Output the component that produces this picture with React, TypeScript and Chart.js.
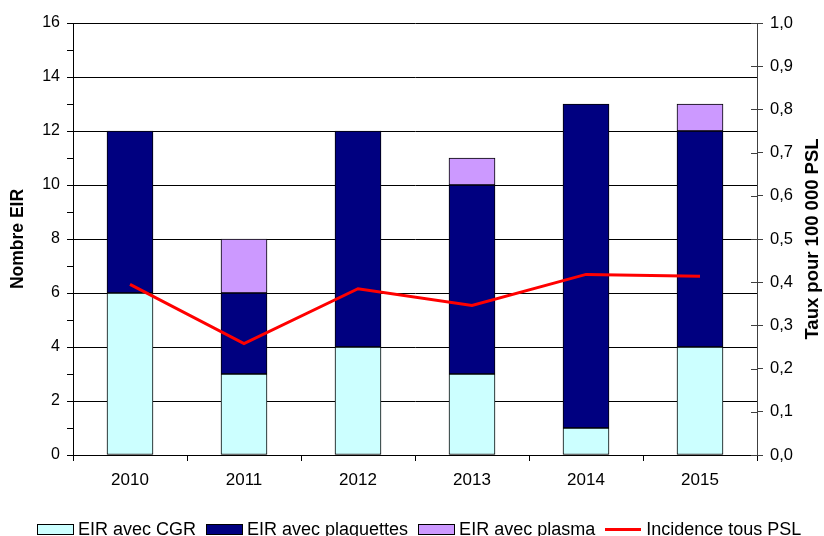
import React, { useEffect, useRef } from "react";
import { Chart, registerables } from "chart.js";

Chart.register(...registerables);

const categories = ["2010", "2011", "2012", "2013", "2014", "2015"];
const cgr = [6, 3, 4, 3, 1, 4];
const plaquettes = [6, 3, 8, 7, 12, 8];
const plasma = [0, 2, 0, 1, 0, 1];
const incidence = [0.395, 0.258, 0.385, 0.346, 0.418, 0.414];

const seriesNames = ["EIR avec CGR", "EIR avec plaquettes", "EIR avec plasma", "Incidence tous PSL"];
const leftTitle = "Nombre EIR";
const rightTitle = "Taux pour 100 000 PSL";

const FONT = '"Liberation Sans", Arial, Helvetica, sans-serif';
const C_CGR = "#CCFFFF";
const C_PLAQ = "#000080";
const C_PLASMA = "#CC99FF";
const C_LINE = "#FF0000";

const overlayPlugin = {
  id: "overlay",
  afterDraw(chart: any) {
    const ctx = chart.ctx as CanvasRenderingContext2D;
    const area = chart.chartArea;
    const y1 = chart.scales.y1;
    ctx.save();
    // inner halves of the right-axis ticks
    ctx.strokeStyle = "#404040";
    ctx.lineWidth = 1;
    y1.ticks.forEach((_t: any, i: number) => {
      const py = Math.round(y1.getPixelForTick(i)) + 0.5;
      ctx.beginPath();
      ctx.moveTo(y1.left - 6, py);
      ctx.lineTo(y1.left, py);
      ctx.stroke();
    });
    // axis titles
    const cy = (area.top + area.bottom) / 2;
    ctx.fillStyle = "#000";
    ctx.textAlign = "center";
    ctx.textBaseline = "middle";
    ctx.save();
    ctx.font = "bold 17.5px " + FONT;
    ctx.translate(18, cy);
    ctx.rotate(-Math.PI / 2);
    ctx.fillText(leftTitle, 0, 0);
    ctx.restore();
    ctx.save();
    ctx.font = "bold 18.5px " + FONT;
    ctx.translate(813, cy);
    ctx.rotate(-Math.PI / 2);
    ctx.fillText(rightTitle, 0, 0);
    ctx.restore();
    // legend
    ctx.font = "18px " + FONT;
    ctx.textAlign = "left";
    ctx.textBaseline = "alphabetic";
    const boxW = 36;
    const gapText = 5;
    const gapItem = 10;
    const widths = seriesNames.map((n) => ctx.measureText(n).width);
    const total = widths.reduce((a, w) => a + boxW + gapText + w, 0) + gapItem * (seriesNames.length - 1);
    let x = Math.round(419 - total / 2);
    const baseY = 535;
    const fills = [C_CGR, C_PLAQ, C_PLASMA];
    seriesNames.forEach((name, i) => {
      const bx = Math.round(x);
      if (i < 3) {
        ctx.fillStyle = fills[i];
        ctx.fillRect(bx, 524, boxW, 10);
        ctx.strokeStyle = "#000";
        ctx.lineWidth = 1;
        ctx.strokeRect(bx + 0.5, 524.5, boxW, 10);
      } else {
        ctx.strokeStyle = C_LINE;
        ctx.lineWidth = 3;
        ctx.beginPath();
        ctx.moveTo(bx, 529.5);
        ctx.lineTo(bx + boxW, 529.5);
        ctx.stroke();
      }
      ctx.fillStyle = "#000";
      ctx.fillText(name, x + boxW + gapText, baseY);
      x += boxW + gapText + widths[i] + gapItem;
    });
    ctx.restore();
  },
};

export default function App() {
  const ref = useRef<HTMLCanvasElement | null>(null);
  useEffect(() => {
    if (!ref.current) return;
    const barCommon = {
      type: "bar" as const,
      borderColor: "#000",
      borderWidth: 1,
      borderSkipped: false,
      barThickness: 46,
      yAxisID: "y",
      stack: "s",
    };
    const chart = new Chart(ref.current, {
      type: "bar",
      data: {
        labels: categories,
        datasets: [
          { ...barCommon, label: seriesNames[0], data: cgr, backgroundColor: C_CGR, order: 1 },
          { ...barCommon, label: seriesNames[1], data: plaquettes, backgroundColor: C_PLAQ, order: 2 },
          { ...barCommon, label: seriesNames[2], data: plasma, backgroundColor: C_PLASMA, order: 3 },
          {
            type: "line",
            label: seriesNames[3],
            data: incidence,
            borderColor: C_LINE,
            backgroundColor: C_LINE,
            borderWidth: 3,
            pointRadius: 0,
            tension: 0,
            yAxisID: "y1",
            order: 0,
          } as any,
        ],
      },
      options: {
        responsive: false,
        animation: false,
        layout: { padding: { top: 23, bottom: 41, left: 0, right: 0 } },
        plugins: {
          legend: { display: false },
          tooltip: { enabled: false },
          title: { display: false },
        },
        scales: {
          x: {
            stacked: true,
            offset: true,
            grid: {
              offset: true,
              drawOnChartArea: false,
              drawTicks: true,
              tickLength: 6,
              tickColor: "#000",
            },
            border: { display: true, color: "#000", width: 1 },
            ticks: { color: "#000", font: { family: FONT, size: 17 }, padding: 9, maxRotation: 0 },
            afterFit: (s: any) => {
              s.height = 40;
            },
          },
          y: {
            type: "linear",
            position: "left",
            stacked: true,
            min: 0,
            max: 16,
            grid: {
              color: (c: any) => (c.tick && c.tick.value % 2 === 0 ? "#000" : "rgba(0,0,0,0)"),
              tickColor: "#000",
              tickLength: 6,
              lineWidth: 1,
            },
            border: { display: true, color: "#000", width: 1 },
            ticks: {
              stepSize: 1,
              autoSkip: false,
              color: "#000",
              font: { family: FONT, size: 16 },
              padding: 7,
              callback: (v: any) => (Number(v) % 2 === 0 ? String(v) : ""),
            },
            afterFit: (s: any) => {
              s.width = 73;
            },
          },
          y1: {
            type: "linear",
            position: "right",
            min: 0,
            max: 1,
            grid: { drawOnChartArea: false, tickColor: "#404040", tickLength: 6 },
            border: { display: true, color: "#404040", width: 1 },
            ticks: {
              stepSize: 0.1,
              autoSkip: false,
              color: "#000",
              font: { family: FONT, size: 16.5 },
              padding: 7,
              callback: (v: any) => Number(v).toFixed(1).replace(".", ","),
            },
            afterFit: (s: any) => {
              s.width = 67;
            },
          },
        },
      },
      plugins: [overlayPlugin],
    });
    return () => chart.destroy();
  }, []);
  return (
    <div
      style={{
        position: "absolute",
        left: 0,
        top: 0,
        width: 824,
        height: 536,
        overflow: "hidden",
        background: "#fff",
      }}
    >
      <canvas ref={ref} width={824} height={536} style={{ display: "block" }} />
    </div>
  );
}
